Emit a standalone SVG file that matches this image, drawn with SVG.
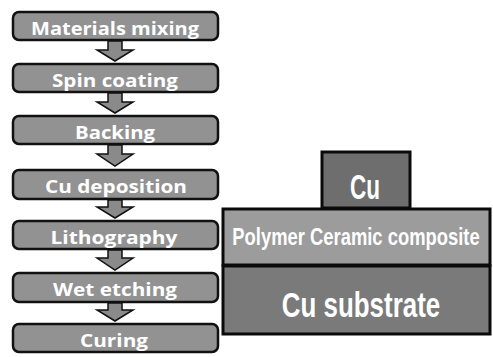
<svg xmlns="http://www.w3.org/2000/svg" width="493" height="357" viewBox="0 0 493 357">
  <style>
    .step rect { fill: #929292; stroke: #111111; stroke-width: 2.5; }
    .step text { font-family: "Open Sans", "DejaVu Sans", sans-serif; font-weight: bold; font-size: 18px; fill: #ffffff; text-anchor: middle; }
    .flow path { fill: #8a8a8a; stroke: #111111; stroke-width: 1.5; stroke-linejoin: miter; }
    .layer { stroke: #0a0a0a; stroke-width: 3; }
    .layer-text { font-family: "Liberation Sans", Arial, sans-serif; font-weight: bold; fill: #ffffff; text-anchor: middle; }
  </style>

  <!-- process flow steps -->
  <g id="step-mixing" class="step">
    <rect x="13" y="12" width="205" height="28" rx="6"/>
    <text x="115" y="35" textLength="168" lengthAdjust="spacingAndGlyphs">Materials mixing</text>
  </g>
  <g id="step-spin" class="step">
    <rect x="13" y="64" width="205" height="28" rx="6"/>
    <text x="115" y="87" textLength="126" lengthAdjust="spacingAndGlyphs">Spin coating</text>
  </g>
  <g id="step-backing" class="step">
    <rect x="13" y="116" width="205" height="28" rx="6"/>
    <text x="115" y="139" textLength="80" lengthAdjust="spacingAndGlyphs">Backing</text>
  </g>
  <g id="step-cu" class="step">
    <rect x="13" y="170" width="205" height="29" rx="6"/>
    <text x="116" y="193" textLength="142" lengthAdjust="spacingAndGlyphs">Cu deposition</text>
  </g>
  <g id="step-litho" class="step">
    <rect x="13" y="221" width="205" height="28" rx="6"/>
    <text x="114" y="244" textLength="127" lengthAdjust="spacingAndGlyphs">Lithography</text>
  </g>
  <g id="step-etch" class="step">
    <rect x="13" y="273" width="205" height="29" rx="6"/>
    <text x="115" y="296" textLength="124" lengthAdjust="spacingAndGlyphs">Wet etching</text>
  </g>
  <g id="step-curing" class="step">
    <rect x="13" y="324" width="205" height="28" rx="6"/>
    <text x="114" y="347" textLength="68" lengthAdjust="spacingAndGlyphs">Curing</text>
  </g>

  <!-- block arrows between steps -->
  <g id="connectors" class="flow">
    <path d="M108 41 H122 V50 H133 L115 61 L97 50 H108 Z"/>
    <path d="M108 93 H122 V102 H133 L115 113 L97 102 H108 Z"/>
    <path d="M108 145 H122 V154 H133 L115 166 L97 154 H108 Z"/>
    <path d="M108 200 H122 V207 H133 L115 218 L97 207 H108 Z"/>
    <path d="M108 250 H122 V258 H133 L115 270 L97 258 H108 Z"/>
    <path d="M108 303 H122 V310 H133 L115 321 L97 310 H108 Z"/>
  </g>

  <!-- layer stack cross-section; labels are narrowed with a horizontal scale -->
  <g id="layer-cu">
    <rect class="layer" x="322" y="152" width="88" height="56" fill="#6e6e6e"/>
    <text class="layer-text" font-size="36" transform="translate(365,199) scale(0.625,1)" x="0" y="0">Cu</text>
  </g>
  <g id="layer-composite">
    <rect class="layer" x="223" y="209" width="267" height="56" fill="#9c9c9c"/>
    <text class="layer-text" font-size="23" transform="translate(356,245) scale(0.8,1)" x="0" y="0">Polymer Ceramic composite</text>
  </g>
  <g id="layer-substrate">
    <rect class="layer" x="223" y="266" width="267" height="68" fill="#7a7a7a"/>
    <text class="layer-text" font-size="36" transform="translate(361,317) scale(0.72,1)" x="0" y="0">Cu substrate</text>
  </g>
</svg>
